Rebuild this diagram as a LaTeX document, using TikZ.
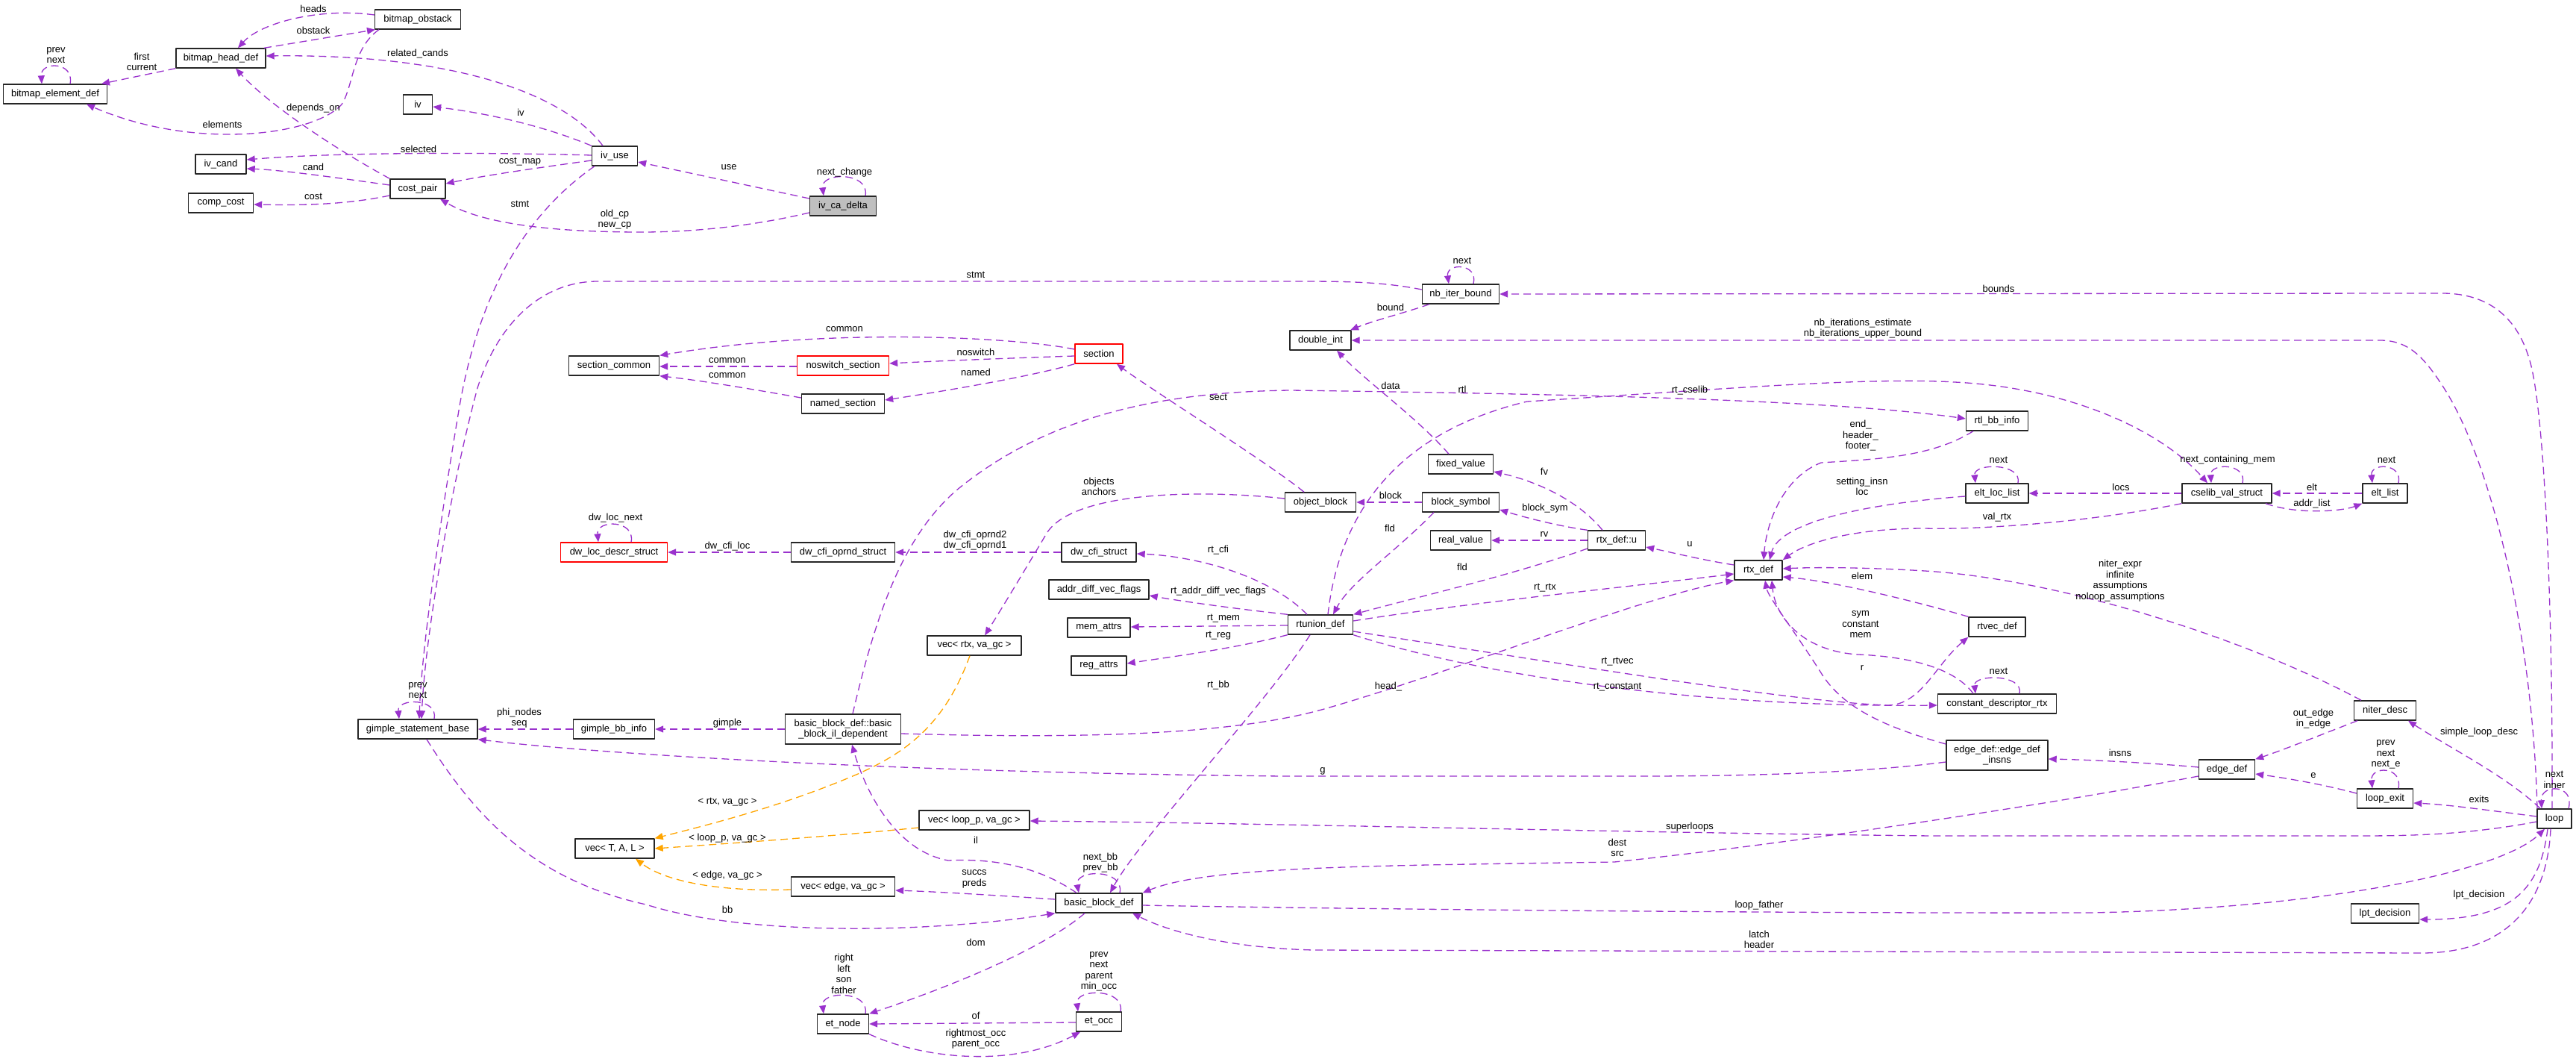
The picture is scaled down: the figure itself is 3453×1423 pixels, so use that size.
\documentclass[tikz,border=0pt]{standalone}
\usepackage{fontspec}
\setmainfont{Liberation Sans}
\usetikzlibrary{arrows.meta}
\definecolor{relcol}{HTML}{9A32CD}
\definecolor{tplcol}{HTML}{FFA500}
\definecolor{boxgray}{HTML}{BFBFBF}

\begin{document}
\begin{tikzpicture}[x=1pt, y=-1pt, line join=round,
  every node/.style={font=\fontsize{13}{14.5}\selectfont},
  cls/.style={draw=black!85, line width=1.4pt, fill=white, minimum height=26pt, inner xsep=3pt, inner ysep=2pt, align=center},
  clsred/.style={cls, draw=red},
  clsme/.style={cls, fill=boxgray},
  rel/.style={draw=relcol, line width=1.3pt, dash pattern=on 10pt off 6pt, -{Triangle[length=11pt,width=9pt]}},
  tpl/.style={rel, draw=tplcol},
  lbl/.style={inner sep=0pt, align=center}]
  \useasboundingbox (0,0) rectangle (3453,1423);

  % Class boxes, top left group.
  \node[cls, minimum width=115pt] (BitmapObstack) at (560,26) {bitmap\_obstack};
  \node[cls, minimum width=120pt] (BitmapHead) at (296,78) {bitmap\_head\_def};
  \node[cls, minimum width=139pt] (BitmapElem) at (74,126) {bitmap\_element\_def};
  \node[cls, minimum width=39pt] (Iv) at (560,140) {iv};
  \node[cls, minimum width=68pt] (IvCand) at (296,220) {iv\_cand};
  \node[cls, minimum width=87pt] (CompCost) at (296,272) {comp\_cost};
  \node[cls, minimum width=74pt] (CostPair) at (560,253) {cost\_pair};
  \node[cls, minimum width=61pt] (IvUse) at (824,209) {iv\_use};
  \node[clsme, minimum width=89pt] (IvCaDelta) at (1130,276) {iv\_ca\_delta};

  % Sections and dwarf structs.
  \node[cls, minimum width=121pt] (SecCommon) at (823,490) {section\_common};
  \node[clsred, minimum width=123pt] (NoswSec) at (1130,490) {noswitch\_section};
  \node[cls, minimum width=111pt] (NamedSec) at (1130,541) {named\_section};
  \node[clsred, minimum width=64pt] (Section) at (1473,474) {section};
  \node[clsred, minimum width=143pt] (DwLocDescr) at (823,740) {dw\_loc\_descr\_struct};
  \node[cls, minimum width=139pt] (DwCfiOprnd) at (1130,740) {dw\_cfi\_oprnd\_struct};
  \node[cls, minimum width=100pt] (DwCfiStruct) at (1473,740) {dw\_cfi\_struct};
  \node[cls, minimum width=134pt] (AddrDiff) at (1473,790) {addr\_diff\_vec\_flags};
  \node[cls, minimum width=84pt] (MemAttrs) at (1473,841) {mem\_attrs};
  \node[cls, minimum width=74pt] (RegAttrs) at (1473,892) {reg\_attrs};
  \node[cls, minimum width=126pt] (VecRtx) at (1306,865) {vec< rtx, va\_gc >};

  % rtx group.
  \node[cls, minimum width=95pt] (ObjBlock) at (1770,673) {object\_block};
  \node[cls, minimum width=87pt] (FixedVal) at (1958,622) {fixed\_value};
  \node[cls, minimum width=103pt] (BlockSym) at (1958,673) {block\_symbol};
  \node[cls, minimum width=81pt] (RealVal) at (1958,724) {real\_value};
  \node[cls, minimum width=77pt] (RtxU) at (2167,724) {rtx\_def::u};
  \node[cls, minimum width=64pt] (RtxDef) at (2357,764) {rtx\_def};
  \node[cls, minimum width=87pt] (Rtunion) at (1770,837) {rtunion\_def};
  \node[cls, minimum width=103pt] (NbIter) at (1958,394) {nb\_iter\_bound};
  \node[cls, minimum width=82pt] (DoubleInt) at (1770,456) {double\_int};
  \node[cls, minimum width=83pt] (RtlBb) at (2677,564) {rtl\_bb\_info};
  \node[cls, minimum width=84pt] (EltLoc) at (2677,661) {elt\_loc\_list};
  \node[cls, minimum width=120pt] (Cselib) at (2985,661) {cselib\_val\_struct};
  \node[cls, minimum width=60pt] (EltList) at (3197,661) {elt\_list};
  \node[cls, minimum width=76pt] (Rtvec) at (2677,840) {rtvec\_def};
  \node[cls, minimum width=159pt] (ConstDesc) at (2677,943) {constant\_descriptor\_rtx};
  \node[cls, minimum width=83pt] (NiterDesc) at (3197,952) {niter\_desc};

  % Basic blocks, edges and loops.
  \node[cls, minimum width=160pt] (GimpleBase) at (560,977) {gimple\_statement\_base};
  \node[cls, minimum width=109pt] (GimpleBb) at (823,977) {gimple\_bb\_info};
  \node[cls, minimum width=106pt] (VecTAL) at (824,1137) {vec< T, A, L >};
  \node[cls, minimum width=155pt, minimum height=40pt] (BbIl) at (1130,977) {basic\_block\_def::basic\\\_block\_il\_dependent};
  \node[cls, minimum width=148pt] (VecLoop) at (1306,1099) {vec< loop\_p, va\_gc >};
  \node[cls, minimum width=139pt] (VecEdge) at (1130,1188) {vec< edge, va\_gc >};
  \node[cls, minimum width=116pt] (BbDef) at (1473,1210) {basic\_block\_def};
  \node[cls, minimum width=69pt] (EtNode) at (1130,1372) {et\_node};
  \node[cls, minimum width=61pt] (EtOcc) at (1473,1369) {et\_occ};
  \node[cls, minimum width=136pt, minimum height=40pt] (EdgeInsns) at (2677,1012) {edge\_def::edge\_def\\\_insns};
  \node[cls, minimum width=75pt] (EdgeDef) at (2985,1031) {edge\_def};
  \node[cls, minimum width=75pt] (LoopExit) at (3197,1070) {loop\_exit};
  \node[cls, minimum width=46pt] (Loop) at (3424,1097) {loop};
  \node[cls, minimum width=91pt] (LptDec) at (3197,1224) {lpt\_decision};

  % Connectors, bitmap and iv part.
  \draw[rel] (BitmapObstack.west |- 0,20) .. controls (430,10) and (350,30) .. (BitmapHead.north -| 319,0);
  \draw[rel] (BitmapHead.north -| 354,0) -- (BitmapObstack.south -| 503,0);
  \draw[rel] (BitmapHead.south west) -- (BitmapElem.north -| 136,0);
  \draw[rel] (BitmapElem.north -| 94,0) .. controls (100,82) and (54,82) .. (BitmapElem.north -| 56,0);
  \draw[rel] (BitmapObstack.south -| 508,0) .. controls (472,65) and (474,115) .. (458,140) .. controls (420,182) and (260,202) .. (BitmapElem.south -| 116,0);
  \draw[rel] (CostPair.north west) .. controls (450,200) and (360,140) .. (BitmapHead.south -| 316,0);
  \draw[rel] (IvUse.north -| 808,0) .. controls (760,130) and (620,72) .. (BitmapHead.east |- 0,75);
  \draw[rel] (IvUse.north west) .. controls (720,165) and (640,150) .. (Iv.east |- 0,143);
  \draw[rel] (IvUse.west |- 0,208) .. controls (650,204) and (450,204) .. (IvCand.east |- 0,214);
  \draw[rel] (CostPair.west |- 0,248) .. controls (450,238) and (380,228) .. (IvCand.east |- 0,226);
  \draw[rel] (CostPair.west |- 0,262) .. controls (460,275) and (400,275) .. (CompCost.east |- 0,274);
  \draw[rel] (IvUse.west |- 0,215) .. controls (720,225) and (650,235) .. (CostPair.east |- 0,246);
  \draw[rel] (IvCaDelta.west |- 0,285) .. controls (1000,305) and (920,311) .. (860,311) .. controls (720,311) and (640,296) .. (CostPair.south -| 590,0);
  \draw[rel] (IvCaDelta.west |- 0,266) -- (IvUse.east |- 0,217);
  \draw[rel] (IvCaDelta.north -| 1160,0) .. controls (1166,230) and (1100,230) .. (IvCaDelta.north -| 1104,0);
  \draw[rel] (IvUse.south -| 797,0) .. controls (700,290) and (640,400) .. (615,550) .. controls (590,700) and (565,870) .. (GimpleBase.north -| 562,0);
  \draw[rel] (NbIter.west |- 0,388) .. controls (1850,377) and (1800,377) .. (1730,377) -- (800,377) .. controls (720,378) and (665,440) .. (640,520) .. controls (605,650) and (570,850) .. (GimpleBase.north -| 565,0);
  \draw[rel] (GimpleBase.north -| 582,0) .. controls (588,935) and (532,935) .. (GimpleBase.north -| 535,0);

  % Connectors, loop bounds.
  \draw[rel] (NbIter.north -| 1975,0) .. controls (1982,352) and (1938,352) .. (NbIter.north -| 1942,0);
  \draw[rel] (NbIter.south -| 1916,0) .. controls (1880,420) and (1840,430) .. (DoubleInt.north -| 1810,0);
  \draw[rel] (Loop.north -| 3421,0) .. controls (3422,800) and (3410,540) .. (3390,480) .. controls (3372,420) and (3330,392) .. (3270,393) -- (NbIter.east |- 0,394);
  \draw[rel] (Loop.north -| 3401,0) .. controls (3395,850) and (3340,620) .. (3276,520) .. controls (3250,480) and (3230,456) .. (3190,456) -- (DoubleInt.east |- 0,456);

  % Connectors, sections and dwarf.
  \draw[rel] (Section.west |- 0,468) .. controls (1350,450) and (1100,440) .. (SecCommon.north east);
  \draw[rel] (Section.west |- 0,477) .. controls (1350,480) and (1250,484) .. (NoswSec.east |- 0,487);
  \draw[rel] (Section.south west) .. controls (1380,505) and (1260,525) .. (NamedSec.east |- 0,536);
  \draw[rel] (NoswSec.west |- 0,491) -- (SecCommon.east |- 0,491);
  \draw[rel] (NamedSec.west |- 0,533) .. controls (1000,520) and (940,510) .. (SecCommon.south east);
  \draw[rel] (ObjBlock.north -| 1748,0) .. controls (1700,620) and (1540,520) .. (Section.south -| 1497,0);
  \draw[rel] (DwCfiStruct.west) -- (DwCfiOprnd.east);
  \draw[rel] (DwCfiOprnd.west) -- (DwLocDescr.east);
  \draw[rel] (DwLocDescr.north -| 846,0) .. controls (852,696) and (799,696) .. (DwLocDescr.north -| 802,0);

  % Connectors, rtx part.
  \draw[rel] (BbIl.north -| 1143,0) .. controls (1175,820) and (1210,720) .. (1282,657) .. controls (1400,560) and (1550,525) .. (1730,523) .. controls (2100,528) and (2450,535) .. (RtlBb.west |- 0,561);
  \draw[rel] (Rtunion.north -| 1780,0) .. controls (1795,690) and (1870,580) .. (2047,538) .. controls (2300,522) and (2500,505) .. (2620,512) .. controls (2780,520) and (2900,580) .. (Cselib.north -| 2959,0);
  \draw[rel] (ObjBlock.west |- 0,668) .. controls (1600,655) and (1440,660) .. (1404,713) .. controls (1370,770) and (1340,820) .. (VecRtx.north -| 1320,0);
  \draw[rel] (BlockSym.west) -- (ObjBlock.east);
  \draw[rel] (RtxU.north -| 2148,0) .. controls (2115,670) and (2060,645) .. (FixedVal.east |- 0,632);
  \draw[rel] (RtxU.north west) .. controls (2090,705) and (2050,695) .. (BlockSym.east |- 0,683);
  \draw[rel] (RtxU.west) -- (RealVal.east);
  \draw[rel] (RtxU.west |- 0,735) .. controls (2030,770) and (1900,800) .. (Rtunion.north east);
  \draw[rel] (BlockSym.south -| 1922,0) .. controls (1870,740) and (1810,780) .. (Rtunion.north -| 1787,0);
  \draw[rel] (FixedVal.north -| 1942,0) .. controls (1900,560) and (1830,510) .. (DoubleInt.south -| 1792,0);
  \draw[rel] (RtxDef.west |- 0,757) .. controls (2280,750) and (2240,740) .. (RtxU.east |- 0,733);
  \draw[rel] (Rtunion.east |- 0,832) .. controls (1950,810) and (2150,790) .. (RtxDef.west |- 0,769);
  \draw[rel] (BbIl.east |- 0,983) .. controls (1450,990) and (1650,985) .. (1775,950) .. controls (1950,900) and (2200,800) .. (RtxDef.south west);
  \draw[rel] (Rtunion.east |- 0,846) .. controls (2100,890) and (2400,940) .. (2530,945) .. controls (2575,945) and (2595,890) .. (Rtvec.south west);
  \draw[rel] (Rtunion.south east) .. controls (2000,910) and (2300,948) .. (ConstDesc.west |- 0,945);
  \draw[rel] (RtlBb.south -| 2645,0) .. controls (2590,612) and (2520,615) .. (2441,620) .. controls (2390,640) and (2368,700) .. (RtxDef.north -| 2364,0);
  \draw[rel] (EltLoc.west |- 0,665) .. controls (2500,675) and (2385,700) .. (RtxDef.north -| 2372,0);
  \draw[rel] (Cselib.south west) .. controls (2800,700) and (2650,710) .. (2580,708) .. controls (2480,708) and (2420,728) .. (RtxDef.north east);
  \draw[rel] (Rtvec.north west) .. controls (2600,815) and (2470,780) .. (RtxDef.east |- 0,773);
  \draw[rel] (NiterDesc.north -| 3165,0) .. controls (3000,850) and (2750,775) .. (2580,765) .. controls (2500,760) and (2430,760) .. (RtxDef.east |- 0,762);
  \draw[rel] (ConstDesc.north -| 2645,0) .. controls (2620,895) and (2560,880) .. (2491,877) .. controls (2420,873) and (2380,830) .. (RtxDef.south -| 2375,0);
  \draw[rel] (EdgeInsns.west |- 0,997) .. controls (2530,975) and (2470,950) .. (2440,900) .. controls (2405,845) and (2370,800) .. (RtxDef.south -| 2366,0);
  \draw[rel] (Cselib.west) -- (EltLoc.east);
  \draw[rel] (EltList.west) -- (Cselib.east);
  \draw[rel] (Cselib.south -| 3037,0) .. controls (3080,690) and (3140,685) .. (EltList.south west);
  \draw[rel] (Cselib.north -| 3006,0) .. controls (3012,620) and (2962,620) .. (Cselib.north -| 2964,0);
  \draw[rel] (EltLoc.north -| 2705,0) .. controls (2711,620) and (2645,620) .. (EltLoc.north -| 2648,0);
  \draw[rel] (EltList.north -| 3215,0) .. controls (3221,620) and (3177,620) .. (EltList.north -| 3180,0);
  \draw[rel] (ConstDesc.north -| 2707,0) .. controls (2713,903) and (2645,903) .. (ConstDesc.north -| 2648,0);

  % Connectors, rtunion members.
  \draw[rel] (Rtunion.north -| 1752,0) .. controls (1700,770) and (1600,745) .. (DwCfiStruct.east |- 0,742);
  \draw[rel] (Rtunion.north west) .. controls (1650,815) and (1580,805) .. (AddrDiff.east |- 0,798);
  \draw[rel] (Rtunion.west |- 0,838) -- (MemAttrs.east |- 0,840);
  \draw[rel] (Rtunion.south west) .. controls (1650,870) and (1570,880) .. (RegAttrs.east |- 0,889);
  \draw[rel] (Rtunion.south -| 1756,0) .. controls (1700,940) and (1530,1120) .. (BbDef.north -| 1488,0);

  % Connectors, basic blocks.
  \draw[rel] (GimpleBb.west) -- (GimpleBase.east);
  \draw[rel] (BbIl.west |- 0,977) -- (GimpleBb.east);
  \draw[rel] (BbDef.north -| 1443,0) .. controls (1390,1160) and (1330,1150) .. (1271,1153) .. controls (1200,1140) and (1160,1060) .. (BbIl.south -| 1142,0);
  \draw[rel] (BbDef.north -| 1501,0) .. controls (1508,1164) and (1440,1164) .. (BbDef.north -| 1446,0);
  \draw[rel] (BbDef.west |- 0,1205) .. controls (1340,1200) and (1260,1195) .. (VecEdge.east |- 0,1193);
  \draw[rel] (GimpleBase.south -| 572,0) .. controls (640,1100) and (720,1180) .. (866,1212) .. controls (1000,1255) and (1250,1250) .. (BbDef.south west);
  \draw[rel] (EdgeInsns.west |- 0,1021) .. controls (2500,1035) and (2350,1040) .. (2200,1040) -- (1720,1040) .. controls (1200,1035) and (800,1010) .. (GimpleBase.south east);
  \draw[rel] (BbDef.south -| 1454,0) .. controls (1400,1270) and (1280,1320) .. (EtNode.north east);
  \draw[rel] (EtNode.north -| 1160,0) .. controls (1166,1327) and (1100,1327) .. (EtNode.north -| 1104,0);
  \draw[rel] (EtOcc.west |- 0,1370) -- (EtNode.east |- 0,1372);
  \draw[rel] (EtNode.south east) .. controls (1240,1420) and (1360,1430) .. (EtOcc.south -| 1448,0);
  \draw[rel] (EtOcc.north -| 1502,0) .. controls (1508,1324) and (1441,1324) .. (EtOcc.north -| 1445,0);

  % Template instances.
  \draw[tpl] (VecRtx.south -| 1300,0) .. controls (1265,975) and (1210,1010) .. (1150,1037) .. controls (1050,1080) and (950,1105) .. (VecTAL.north east);
  \draw[tpl] (VecLoop.west |- 0,1109) .. controls (1100,1122) and (950,1132) .. (VecTAL.east);
  \draw[tpl] (VecEdge.west |- 0,1192) .. controls (960,1195) and (890,1180) .. (VecTAL.south -| 852,0);

  % Connectors, loop part.
  \draw[rel] (Loop.west |- 0,1101) .. controls (3300,1120) and (3220,1120) .. (3150,1120) -- (2590,1120) .. controls (2200,1116) and (1700,1103) .. (VecLoop.east |- 0,1100);
  \draw[rel] (EdgeDef.west |- 0,1040) .. controls (2800,1068) and (2450,1125) .. (2164,1155) .. controls (1850,1160) and (1620,1160) .. (BbDef.north east);
  \draw[rel] (BbDef.east |- 0,1213) .. controls (1800,1218) and (2400,1224) .. (2800,1223) .. controls (3100,1218) and (3350,1170) .. (Loop.south -| 3411,0);
  \draw[rel] (Loop.south -| 3419,0) .. controls (3415,1200) and (3370,1276) .. (3248,1277) -- (1760,1273) .. controls (1650,1270) and (1570,1250) .. (BbDef.south -| 1518,0);
  \draw[rel] (Loop.south -| 3415,0) .. controls (3405,1190) and (3370,1232) .. (LptDec.east |- 0,1232);
  \draw[rel] (Loop.west |- 0,1094) .. controls (3330,1085) and (3280,1078) .. (LoopExit.east |- 0,1076);
  \draw[rel] (LoopExit.west |- 0,1063) .. controls (3110,1050) and (3060,1042) .. (EdgeDef.east |- 0,1037);
  \draw[rel] (LoopExit.north -| 3215,0) .. controls (3221,1026) and (3177,1026) .. (LoopExit.north -| 3180,0);
  \draw[rel] (NiterDesc.south -| 3160,0) .. controls (3110,985) and (3060,1005) .. (EdgeDef.north east);
  \draw[rel] (Loop.north -| 3405,0) .. controls (3360,1040) and (3280,1000) .. (NiterDesc.south -| 3228,0);
  \draw[rel] (EdgeDef.west |- 0,1028) .. controls (2880,1022) and (2800,1018) .. (EdgeInsns.east |- 0,1017);
  \draw[rel] (Loop.north -| 3443,0) .. controls (3452,1050) and (3405,1050) .. (Loop.north -| 3407,0);

  % Member labels.
  \node[lbl] (Lheads) at (420,12) {heads};
  \node[lbl] (Lobstack) at (420,41) {obstack};
  \node[lbl] (Lfirst) at (190,83) {first\\current};
  \node[lbl] (Lprev1) at (75,74) {prev\\next};
  \node[lbl] (Lelements) at (298,167) {elements};
  \node[lbl] (Ldepends) at (420,145) {depends\_on};
  \node[lbl] (Lrelated) at (560,72) {related\_cands};
  \node[lbl] (Liv) at (698,151) {iv};
  \node[lbl] (Lselected) at (561,200) {selected};
  \node[lbl] (Lcand) at (420,224) {cand};
  \node[lbl] (Lcost) at (420,263) {cost};
  \node[lbl] (Lcostmap) at (697,217) {cost\_map};
  \node[lbl] (Loldcp) at (824,294) {old\_cp\\new\_cp};
  \node[lbl] (Luse) at (977,224) {use};
  \node[lbl] (Lnextchange) at (1132,231) {next\_change};
  \node[lbl] (Lstmt1) at (697,273) {stmt};
  \node[lbl] (Lstmt2) at (1308,368) {stmt};
  \node[lbl] (Lprev2) at (560,925) {prev\\next};
  \node[lbl] (Lnext1) at (1960,349) {next};
  \node[lbl] (Lbound) at (1864,412) {bound};
  \node[lbl] (Lbounds) at (2679,387) {bounds};
  \node[lbl] (Lnbiter) at (2497,440) {nb\_iterations\_estimate\\nb\_iterations\_upper\_bound};
  \node[lbl] (Lcommon1) at (1132,441) {common};
  \node[lbl] (Lnoswitch) at (1308,472) {noswitch};
  \node[lbl] (Lnamed) at (1308,499) {named};
  \node[lbl] (Lcommon2) at (975,483) {common};
  \node[lbl] (Lcommon3) at (975,503) {common};
  \node[lbl] (Lsect) at (1633,532) {sect};
  \node[lbl] (Lrtl) at (1960,522) {rtl};
  \node[lbl] (Lcselib) at (2265,523) {rt\_cselib};
  \node[lbl] (Lobjects) at (1473,652) {objects\\anchors};
  \node[lbl] (Lblock) at (1864,664) {block};
  \node[lbl] (Lfv) at (2070,632) {fv};
  \node[lbl] (Lblocksym) at (2071,681) {block\_sym};
  \node[lbl] (Lrv) at (2070,716) {rv};
  \node[lbl] (Lfld1) at (1960,760) {fld};
  \node[lbl] (Lfld2) at (1863,708) {fld};
  \node[lbl] (Ldata) at (1864,517) {data};
  \node[lbl] (Lu) at (2265,729) {u};
  \node[lbl] (Lrtrtx) at (2071,788) {rt\_rtx};
  \node[lbl] (Lhead) at (1861,920) {head\_};
  \node[lbl] (Lrtvec) at (2168,887) {rt\_rtvec};
  \node[lbl] (Lrtconst) at (2168,921) {rt\_constant};
  \node[lbl] (Lend) at (2494,584) {end\_\\header\_\\footer\_};
  \node[lbl] (Lsetting) at (2496,652) {setting\_insn\\loc};
  \node[lbl] (Lvalrtx) at (2677,693) {val\_rtx};
  \node[lbl] (Lelem) at (2496,772) {elem};
  \node[lbl] (Lniter) at (2842,778) {niter\_expr\\infinite\\assumptions\\noloop\_assumptions};
  \node[lbl] (Lsym) at (2494,837) {sym\\constant\\mem};
  \node[lbl] (Lr) at (2496,895) {r};
  \node[lbl] (Llocs) at (2843,653) {locs};
  \node[lbl] (Lelt) at (3099,653) {elt};
  \node[lbl] (Laddr) at (3099,675) {addr\_list};
  \node[lbl] (Lnextmem) at (2986,616) {next\_containing\_mem};
  \node[lbl] (Lnext2) at (2679,616) {next};
  \node[lbl] (Lnext3) at (3199,616) {next};
  \node[lbl] (Lnext4) at (2679,899) {next};
  \node[lbl] (Lrtcfi) at (1633,737) {rt\_cfi};
  \node[lbl] (Lrtaddr) at (1633,792) {rt\_addr\_diff\_vec\_flags};
  \node[lbl] (Lrtmem) at (1640,829) {rt\_mem};
  \node[lbl] (Lrtreg) at (1633,852) {rt\_reg};
  \node[lbl] (Lrtbb) at (1633,918) {rt\_bb};
  \node[lbl] (Loprnd) at (1307,724) {dw\_cfi\_oprnd2\\dw\_cfi\_oprnd1};
  \node[lbl] (Lcfiloc) at (975,732) {dw\_cfi\_loc};
  \node[lbl] (Ldwnext) at (825,694) {dw\_loc\_next};
  \node[lbl] (Lphi) at (696,962) {phi\_nodes\\seq};
  \node[lbl] (Lgimple) at (975,969) {gimple};
  \node[lbl] (Lil) at (1308,1126) {il};
  \node[lbl] (Lnextbb) at (1475,1156) {next\_bb\\prev\_bb};
  \node[lbl] (Lsuccs) at (1306,1178) {succs\\preds};
  \node[lbl] (Lbb) at (975,1219) {bb};
  \node[lbl] (Lg) at (1773,1033) {g};
  \node[lbl] (Ldom) at (1308,1263) {dom};
  \node[lbl] (Letnode) at (1131,1305) {right\\left\\son\\father};
  \node[lbl] (Lof) at (1308,1361) {of};
  \node[lbl] (Lrightmost) at (1308,1392) {rightmost\_occ\\parent\_occ};
  \node[lbl] (Letocc) at (1473,1302) {prev\\next\\parent\\min\_occ};
  \node[lbl] (Ltrtx) at (975,1075) {< rtx, va\_gc >};
  \node[lbl] (Ltloop) at (975,1123) {< loop\_p, va\_gc >};
  \node[lbl] (Ltedge) at (975,1173) {< edge, va\_gc >};
  \node[lbl] (Lsuper) at (2265,1108) {superloops};
  \node[lbl] (Ldest) at (2168,1136) {dest\\src};
  \node[lbl] (Lfather) at (2358,1213) {loop\_father};
  \node[lbl] (Llatch) at (2358,1259) {latch\\header};
  \node[lbl] (Llpt) at (3323,1199) {lpt\_decision};
  \node[lbl] (Lexits) at (3323,1071) {exits};
  \node[lbl] (Le) at (3101,1039) {e};
  \node[lbl] (Lexitself) at (3198,1011) {prev\\next\\next\_e};
  \node[lbl] (Lout) at (3101,963) {out\_edge\\in\_edge};
  \node[lbl] (Lsimple) at (3323,981) {simple\_loop\_desc};
  \node[lbl] (Linsns) at (2842,1009) {insns};
  \node[lbl] (Lloopself) at (3424,1045) {next\\inner};

\end{tikzpicture}
\end{document}
